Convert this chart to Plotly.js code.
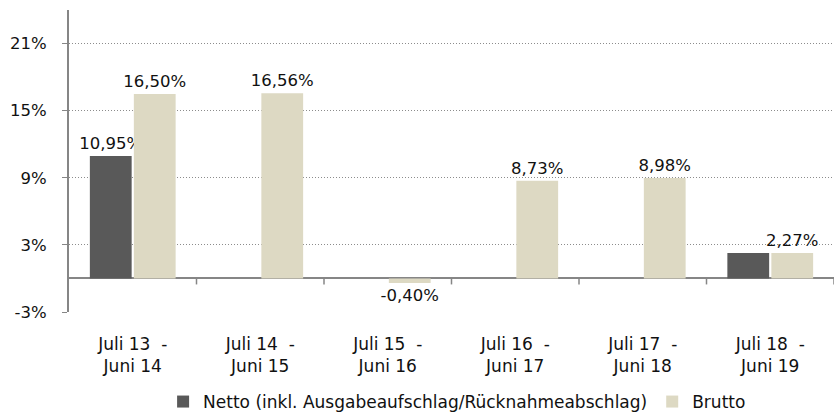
<!DOCTYPE html>
<html>
<head>
<meta charset="utf-8">
<script src="https://cdn.plot.ly/plotly-3.0.1.min.js"></script>
<style>html,body{margin:0;padding:0;background:#fff;}#chart{width:840px;height:412px;}</style>
</head>
<body>
<div id="chart"></div>
<script>
const categories = ["Juli 13  -<br>Juni 14", "Juli 14  -<br>Juni 15", "Juli 15  -<br>Juni 16", "Juli 16  -<br>Juni 17", "Juli 17  -<br>Juni 18", "Juli 18  -<br>Juni 19"];
const nettoValues = [10.95, null, null, null, null, 2.27];
const bruttoValues = [16.50, 16.56, -0.40, 8.73, 8.98, 2.27];
const nettoLabelShown = [true, false, false, false, false, false];
const yTickValues = [-3, 3, 9, 15, 21];
const yTickLabels = ["-3%", "3%", "9%", "15%", "21%"];
const seriesNames = ["Netto (inkl. Ausgabeaufschlag/Rücknahmeabschlag)", "Brutto"];

const fmt = v => v.toFixed(2).replace('.', ',') + '%';
const nettoText = nettoValues.map((v, i) => (v == null || !nettoLabelShown[i]) ? '' : fmt(v));
const bruttoText = bruttoValues.map(v => v == null ? '' : fmt(v));
const xIdx = categories.map((c, i) => i);

const FONT = "DejaVu Sans";
const labelFont = {family: FONT, size: 16.5, color: '#111'};

const traces = [
  {type: 'bar', name: seriesNames[0], x: xIdx, y: nettoValues, text: nettoText,
   textposition: 'outside', constraintext: 'none', textfont: labelFont, cliponaxis: false,
   marker: {color: '#595959'}, hoverinfo: 'none'},
  {type: 'bar', name: seriesNames[1], x: xIdx, y: bruttoValues, text: bruttoText,
   textposition: 'outside', constraintext: 'none', textfont: labelFont, cliponaxis: false,
   marker: {color: '#DDD9C3'}, hoverinfo: 'none'}
];

// small tick marks on the zero line at category boundaries
const shapes = categories.map((c, i) => ({
  type: 'line', xref: 'x', yref: 'y', ysizemode: 'pixel', yanchor: 0,
  x0: i + 0.5, x1: i + 0.5, y0: 0, y1: -6,
  line: {color: '#868686', width: 1.5}
}));

const layout = {
  width: 840, height: 412,
  margin: {l: 69, r: 6, t: 10, b: 100, autoexpand: false},
  paper_bgcolor: '#fff', plot_bgcolor: '#fff',
  font: {family: FONT, size: 16.5, color: '#111'},
  barmode: 'group', bargap: 0.31, bargroupgap: 0.05,
  showlegend: true,
  legend: {orientation: 'h', x: 0.123, xanchor: 'left', y: -0.298, yanchor: 'middle',
           font: {family: FONT, size: 17, color: '#111'}, traceorder: 'normal'},
  xaxis: {
    type: 'linear', range: [-0.5, 5.5], automargin: false,
    tickmode: 'array', tickvals: xIdx, ticktext: categories,
    showgrid: false, zeroline: false, showline: false, ticks: '',
    ticklabelstandoff: 20,
    tickfont: {family: FONT, size: 17, color: '#111'},
    fixedrange: true
  },
  yaxis: {
    range: [-3, 24], automargin: false, tickmode: 'array', tickvals: yTickValues, ticktext: yTickLabels,
    showgrid: true, gridcolor: '#8c8c8c', gridwidth: 1, griddash: '1px,2px',
    zeroline: true, zerolinecolor: '#868686', zerolinewidth: 2,
    showline: true, linecolor: '#868686', linewidth: 2,
    ticks: 'outside', ticklen: 5, tickcolor: '#868686', tickwidth: 1,
    ticklabelstandoff: 12,
    tickfont: {family: FONT, size: 16.5, color: '#111'},
    fixedrange: true
  },
  shapes: shapes
};

Plotly.newPlot('chart', traces, layout, {staticPlot: true, displayModeBar: false});
</script>
</body>
</html>
